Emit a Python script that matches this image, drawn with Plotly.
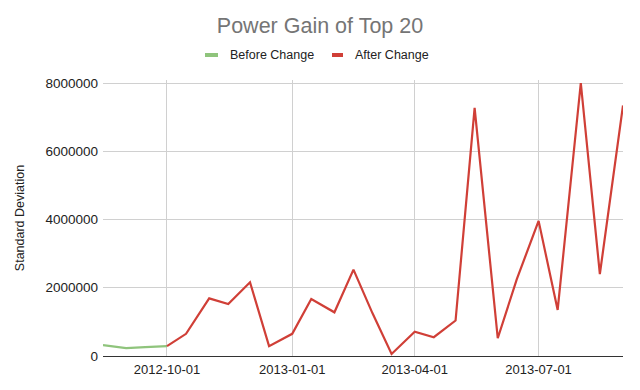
import plotly.graph_objects as go

before_dates = ["2012-08-15", "2012-09-01", "2012-09-15", "2012-10-01"]
before_vals = [320000, 230000, 260000, 290000]

after_dates = ["2012-10-01", "2012-10-15", "2012-11-01", "2012-11-15", "2012-12-01",
               "2012-12-15", "2013-01-01", "2013-01-15", "2013-02-01", "2013-02-15",
               "2013-03-01", "2013-03-15", "2013-04-01", "2013-04-15", "2013-05-01",
               "2013-05-15", "2013-06-01", "2013-06-15", "2013-07-01", "2013-07-15",
               "2013-08-01", "2013-08-15", "2013-09-01"]
after_vals = [290000, 650000, 1690000, 1520000, 2160000,
              290000, 650000, 1670000, 1280000, 2530000,
              1250000, 60000, 710000, 550000, 1040000,
              7270000, 520000, 2250000, 3960000, 1350000,
              8000000, 2400000, 7340000]

y_ticks = [0, 2000000, 4000000, 6000000, 8000000]

FONT = "Liberation Sans, Arial, sans-serif"
GREEN = "#8fc47c"
RED = "#d03f37"

W, H = 640, 390
ML, MR, MT, MB = 103, 17, 80, 34
PW, PH = W - ML - MR, H - MT - MB
Y_TOP = 8000000 * PH / 273  # keep the 8M gridline at the same pixel row, leave room for peak


def px_x(px):
    return (px - ML) / PW


def px_y(py):
    return (H - MB - py) / PH


fig = go.Figure()
fig.add_trace(go.Scatter(x=before_dates, y=before_vals, mode="lines", name="Before Change",
                         line=dict(color=GREEN, width=2.2)))
fig.add_trace(go.Scatter(x=after_dates, y=after_vals, mode="lines", name="After Change",
                         line=dict(color=RED, width=2.2)))

# custom legend (short line swatches like the reference)
legend_items = [("Before Change", GREEN, 205, 218, 228), ("After Change", RED, 332, 343, 353)]
for name, color, x0, x1, xt in legend_items:
    fig.add_shape(type="line", xref="paper", yref="paper",
                  x0=px_x(x0), x1=px_x(x1), y0=px_y(55), y1=px_y(55),
                  line=dict(color=color, width=4))
    fig.add_annotation(text=name, xref="paper", yref="paper", x=px_x(xt), y=px_y(55),
                       xanchor="left", yanchor="middle", showarrow=False,
                       font=dict(family=FONT, size=12.5, color="#222222"))

fig.update_layout(
    width=W, height=H,
    margin=dict(l=ML, r=MR, t=MT, b=MB),
    paper_bgcolor="white", plot_bgcolor="white",
    font=dict(family=FONT, size=13, color="#222222"),
    title=dict(text="Power Gain of Top 20", x=0.5, xref="container", xanchor="center",
               y=1 - 25 / 390, yref="container", yanchor="middle",
               font=dict(family=FONT, size=21.5, color="#757575")),
    showlegend=False,
)

fig.update_xaxes(
    range=["2012-08-15", "2013-09-01"],
    tickformat="%Y-%m-%d", dtick="M3", tick0="2012-10-01",
    showgrid=True, gridcolor="#d0d0d0", gridwidth=1,
    showline=False, zeroline=False, ticks="",
    ticklabelstandoff=4,
    tickfont=dict(family=FONT, size=13, color="#222222"),
)
fig.update_yaxes(
    range=[0, Y_TOP], tickvals=y_ticks, tickformat="d",
    showgrid=True, gridcolor="#d0d0d0", gridwidth=1,
    zeroline=True, zerolinecolor="#333333", zerolinewidth=1,
    ticks="", showline=False,
    ticklabelstandoff=4,
    tickfont=dict(family=FONT, size=13.5, color="#222222"),
    title=dict(text="Standard Deviation", font=dict(family=FONT, size=12.5, color="#222222"),
               standoff=18),
)

fig.write_html("out.html")
